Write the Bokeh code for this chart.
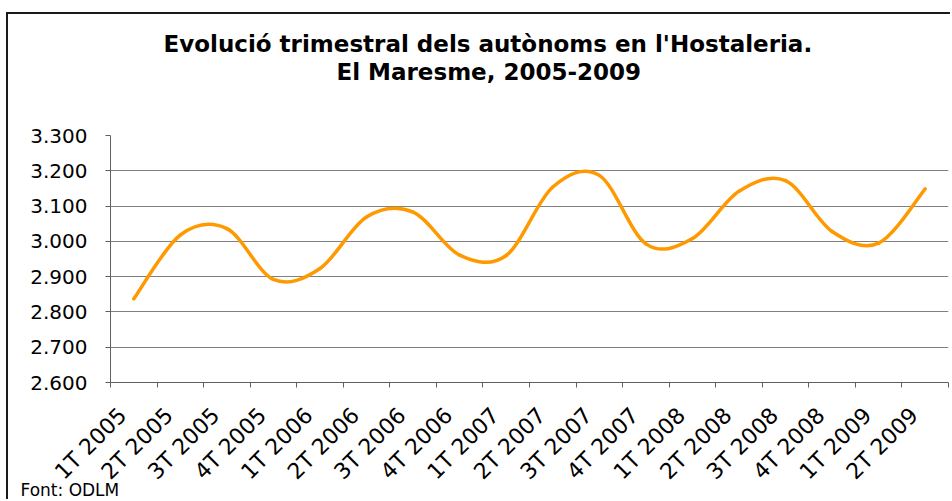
from bokeh.plotting import figure
from bokeh.models import FixedTicker, Range1d, ColumnDataSource, Title
from bokeh.embed import file_html
from bokeh.resources import INLINE

quarters = ["1T 2005", "2T 2005", "3T 2005", "4T 2005",
            "1T 2006", "2T 2006", "3T 2006", "4T 2006",
            "1T 2007", "2T 2007", "3T 2007", "4T 2007",
            "1T 2008", "2T 2008", "3T 2008", "4T 2008",
            "1T 2009", "2T 2009"]
autonoms = [2837, 3018, 3036, 2892, 2923, 3069, 3083, 2961, 2960,
            3154, 3187, 2993, 3008, 3142, 3172, 3028, 2995, 3149]
y_ticks = [2600, 2700, 2800, 2900, 3000, 3100, 3200, 3300]
y_tick_labels = ["2.600", "2.700", "2.800", "2.900", "3.000", "3.100", "3.200", "3.300"]

n = len(autonoms)
xs = list(range(n))

# Excel-style smoothed line: cubic Bezier segments through the data points
seg = dict(x0=[], y0=[], x1=[], y1=[], cx0=[], cy0=[], cx1=[], cy1=[])
for i in range(n - 1):
    im = max(i - 1, 0)
    ip = min(i + 2, n - 1)
    seg["x0"].append(xs[i]); seg["y0"].append(autonoms[i])
    seg["x1"].append(xs[i + 1]); seg["y1"].append(autonoms[i + 1])
    seg["cx0"].append(xs[i] + (xs[i + 1] - xs[im]) / 6)
    seg["cy0"].append(autonoms[i] + (autonoms[i + 1] - autonoms[im]) / 6)
    seg["cx1"].append(xs[i + 1] - (xs[ip] - xs[i]) / 6)
    seg["cy1"].append(autonoms[i + 1] - (autonoms[ip] - autonoms[i]) / 6)
src = ColumnDataSource(seg)

p = figure(width=944, height=487, output_backend="svg", toolbar_location=None,
           x_range=Range1d(-0.5, n - 0.5), y_range=Range1d(y_ticks[0], y_ticks[-1]),
           min_border_left=102, min_border_right=4, min_border_top=121,
           min_border_bottom=119, title=None)
p.styles = {"margin-left": "6px", "margin-top": "12px",
            "border-left": "2px solid #1a1a1a", "border-top": "2px solid #1a1a1a"}
p.outline_line_color = None
p.background_fill_color = "white"
p.border_fill_color = "white"

p.bezier(x0="x0", y0="y0", x1="x1", y1="y1", cx0="cx0", cy0="cy0",
         cx1="cx1", cy1="cy1", source=src, line_color="#FF9900",
         line_width=3.5, line_cap="round")

# grid
p.xgrid.grid_line_color = None
p.ygrid.ticker = FixedTicker(ticks=y_ticks)
p.ygrid.grid_line_color = "#808080"
p.ygrid.grid_line_width = 1

# y axis
p.yaxis.ticker = FixedTicker(ticks=y_ticks)
p.yaxis.major_label_overrides = {t: l for t, l in zip(y_ticks, y_tick_labels)}
p.yaxis.major_label_text_font = "DejaVu Sans"
p.yaxis.major_label_text_font_size = "20px"
p.yaxis.major_label_text_color = "#000000"
p.yaxis.major_tick_out = 5
p.yaxis.major_tick_in = 0
p.yaxis.minor_tick_line_color = None
p.yaxis.axis_line_color = "#606060"
p.yaxis.major_tick_line_color = "#606060"
p.yaxis.major_label_standoff = 18

# x axis: labels slightly left of the category centre, ticks between categories
label_pos = [round(x - 0.24, 2) for x in xs]
p.xaxis.ticker = FixedTicker(ticks=label_pos, minor_ticks=[x - 0.5 for x in xs] + [n - 0.5])
p.xaxis.major_label_overrides = {x: q for x, q in zip(label_pos, quarters)}
p.xaxis.major_label_orientation = 0.785398
p.xaxis.major_label_text_font = "DejaVu Sans"
p.xaxis.major_label_text_font_size = "22px"
p.xaxis.major_label_text_color = "#000000"
p.xaxis.major_tick_out = 0
p.xaxis.major_tick_in = 0
p.xaxis.minor_tick_out = 5
p.xaxis.minor_tick_in = 0
p.xaxis.minor_tick_line_color = "#606060"
p.xaxis.axis_line_color = "#606060"
p.xaxis.major_label_standoff = 24

# title, two lines (white spacer keeps the gap above the plot area)
spacer = Title(text=".", align="left", text_font="DejaVu Sans",
               text_font_size="23px", text_color="white", standoff=32)
t2 = Title(text="El Maresme, 2005-2009", align="left", offset=226,
           text_font="DejaVu Sans", text_font_style="bold", text_font_size="23px",
           text_color="#000000", standoff=0)
t1 = Title(text="Evolució trimestral dels autònoms en l'Hostaleria.", align="left",
           offset=53, text_font="DejaVu Sans", text_font_style="bold",
           text_font_size="23px", text_color="#000000", standoff=0)
p.add_layout(spacer, "above")
p.add_layout(t2, "above")
p.add_layout(t1, "above")

# source note under the axis labels
footer = Title(text="Font: ODLM", align="left", offset=-90, vertical_align="top",
               text_font="DejaVu Sans", text_font_size="17px",
               text_font_style="normal", text_color="#000000", standoff=-34)
p.add_layout(footer, "below")

open("out.html", "w").write(file_html(p, INLINE))
